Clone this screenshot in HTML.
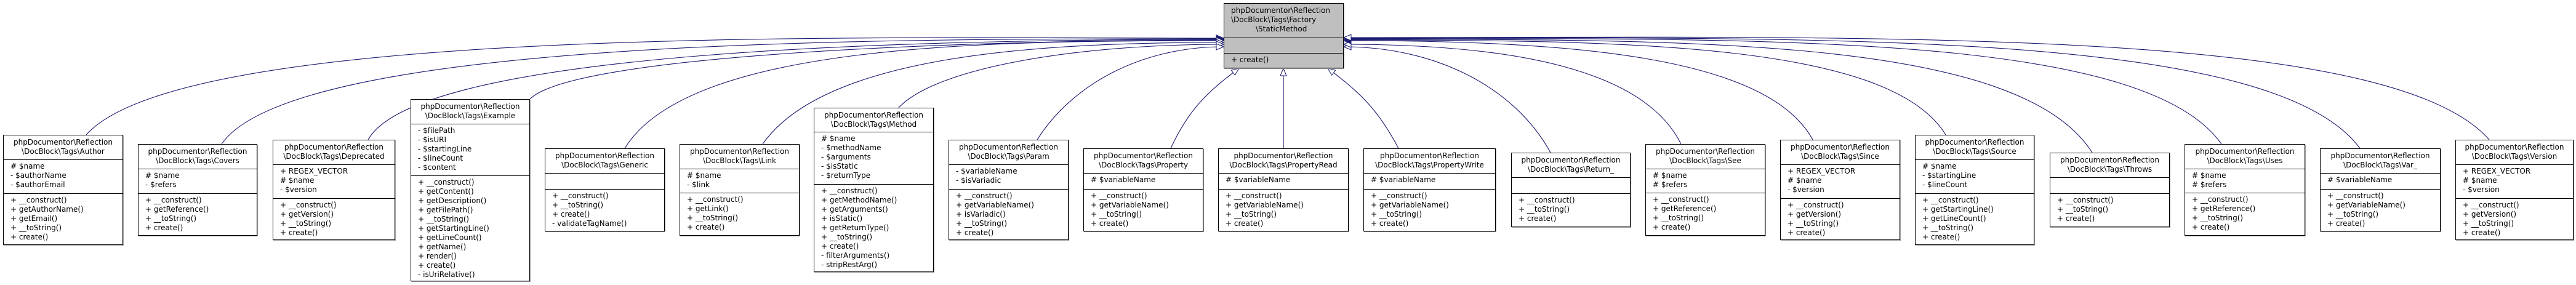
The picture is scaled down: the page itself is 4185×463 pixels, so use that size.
<!DOCTYPE html>
<html><head><meta charset="utf-8">
<style>
html,body{margin:0;padding:0;background:#fff;width:4185px;height:463px;overflow:hidden;position:relative}
body{font-family:"DejaVu Sans","Liberation Sans",sans-serif;font-size:12px;line-height:15px;color:#000}
.b{position:absolute;border:1px solid #000;background:#fff;box-sizing:border-box;box-shadow:1px 1px 0 #999}
.h{position:absolute;left:0;right:0;top:0;text-align:center;padding:4px 2px 0;white-space:nowrap}
.s{position:absolute;left:0;right:0;border-top:1px solid #000;padding:3px 0 0 11px;white-space:nowrap}
svg{position:absolute;left:0;top:0}
</style></head><body>
<svg width="4185" height="463">
<defs><marker id="a" markerUnits="userSpaceOnUse" markerWidth="16" markerHeight="14" refX="13" refY="6" orient="auto"><path d="M1,1 L13,6 L1,11 Z" fill="#fff" stroke="#191970" stroke-width="1"/></marker></defs>
<g fill="none" stroke="#191970" stroke-width="1.1" marker-end="url(#a)">
<path d="M140,219 C300,40 1400,62 1988,62"/>
<path d="M360,234 C480,60 1450,63 1988,63"/>
<path d="M598,227 C680,80 1500,64 1988,64"/>
<path d="M861,161 C930,90 1550,65 1988,65"/>
<path d="M1015,241 C1120,70 1600,66 1988,66"/>
<path d="M1239,234 C1340,90 1680,69 1988,69"/>
<path d="M1460,175 C1520,110 1750,72 1988,72"/>
<path d="M1685,227 C1740,140 1850,76 1988,76"/>
<path d="M1902,241 C1930,180 1960,150 2013,111"/>
<path d="M2085,241 L2085,111"/>
<path d="M2272,241 C2240,180 2210,150 2157,111"/>
<path d="M2519,248 C2460,140 2330,76 2183,76"/>
<path d="M2731,234 C2670,110 2450,72 2183,72"/>
<path d="M2945,227 C2870,90 2550,66 2183,66"/>
<path d="M3161,219 C3070,70 2650,65 2183,65"/>
<path d="M3399,248 C3280,60 2750,64 2183,64"/>
<path d="M3609,234 C3480,50 2850,63 2183,63"/>
<path d="M3834,241 C3690,45 2950,62 2183,62"/>
<path d="M4044,227 C3880,40 3050,61 2183,61"/>
</g>
</svg>

<div class="b" style="left:1988px;top:5px;width:195px;height:106px;background:#bfbfbf"><div class="h" style="text-align:left;padding-left:11px">phpDocumentor\Reflection<br>\DocBlock\Tags\Factory<br><span style="padding-left:40px">\StaticMethod</span></div><div class="s" style="top:55px;height:25px"></div><div class="s" style="top:80px">+ create()</div></div>

<div class="b" style="left:5px;top:219px;width:195px;height:179px"><div class="h">phpDocumentor\Reflection<br>\DocBlock\Tags\Author</div><div class="s" style="top:39px"># $name<br>- $authorName<br>- $authorEmail</div><div class="s" style="top:94px">+ __construct()<br>+ getAuthorName()<br>+ getEmail()<br>+ __toString()<br>+ create()</div></div>

<div class="b" style="left:224px;top:234px;width:194px;height:149px"><div class="h">phpDocumentor\Reflection<br>\DocBlock\Tags\Covers</div><div class="s" style="top:39px"># $name<br>- $refers</div><div class="s" style="top:79px">+ __construct()<br>+ getReference()<br>+ __toString()<br>+ create()</div></div>

<div class="b" style="left:443px;top:227px;width:199px;height:163px"><div class="h">phpDocumentor\Reflection<br>\DocBlock\Tags\Deprecated</div><div class="s" style="top:39px">+ REGEX_VECTOR<br># $name<br>- $version</div><div class="s" style="top:94px">+ __construct()<br>+ getVersion()<br>+ __toString()<br>+ create()</div></div>

<div class="b" style="left:667px;top:161px;width:194px;height:296px"><div class="h">phpDocumentor\Reflection<br>\DocBlock\Tags\Example</div><div class="s" style="top:39px">- $filePath<br>- $isURI<br>- $startingLine<br>- $lineCount<br>- $content</div><div class="s" style="top:123px">+ __construct()<br>+ getContent()<br>+ getDescription()<br>+ getFilePath()<br>+ __toString()<br>+ getStartingLine()<br>+ getLineCount()<br>+ getName()<br>+ render()<br>+ create()<br>- isUriRelative()</div></div>

<div class="b" style="left:885px;top:241px;width:195px;height:135px"><div class="h">phpDocumentor\Reflection<br>\DocBlock\Tags\Generic</div><div class="s" style="top:39px;height:23px"></div><div class="s" style="top:65px">+ __construct()<br>+ __toString()<br>+ create()<br>- validateTagName()</div></div>

<div class="b" style="left:1104px;top:234px;width:195px;height:149px"><div class="h">phpDocumentor\Reflection<br>\DocBlock\Tags\Link</div><div class="s" style="top:39px"># $name<br>- $link</div><div class="s" style="top:78px">+ __construct()<br>+ getLink()<br>+ __toString()<br>+ create()</div></div>

<div class="b" style="left:1322px;top:175px;width:195px;height:267px"><div class="h">phpDocumentor\Reflection<br>\DocBlock\Tags\Method</div><div class="s" style="top:38px"># $name<br>- $methodName<br>- $arguments<br>- $isStatic<br>- $returnType</div><div class="s" style="top:123px">+ __construct()<br>+ getMethodName()<br>+ getArguments()<br>+ isStatic()<br>+ getReturnType()<br>+ __toString()<br>+ create()<br>- filterArguments()<br>- stripRestArg()</div></div>

<div class="b" style="left:1541px;top:227px;width:195px;height:163px"><div class="h">phpDocumentor\Reflection<br>\DocBlock\Tags\Param</div><div class="s" style="top:39px">- $variableName<br>- $isVariadic</div><div class="s" style="top:79px">+ __construct()<br>+ getVariableName()<br>+ isVariadic()<br>+ __toString()<br>+ create()</div></div>

<div class="b" style="left:1760px;top:241px;width:195px;height:135px"><div class="h">phpDocumentor\Reflection<br>\DocBlock\Tags\Property</div><div class="s" style="top:39px"># $variableName</div><div class="s" style="top:65px">+ __construct()<br>+ getVariableName()<br>+ __toString()<br>+ create()</div></div>

<div class="b" style="left:1979px;top:241px;width:212px;height:135px"><div class="h">phpDocumentor\Reflection<br>\DocBlock\Tags\PropertyRead</div><div class="s" style="top:39px"># $variableName</div><div class="s" style="top:65px">+ __construct()<br>+ getVariableName()<br>+ __toString()<br>+ create()</div></div>

<div class="b" style="left:2215px;top:241px;width:215px;height:135px"><div class="h">phpDocumentor\Reflection<br>\DocBlock\Tags\PropertyWrite</div><div class="s" style="top:39px"># $variableName</div><div class="s" style="top:65px">+ __construct()<br>+ getVariableName()<br>+ __toString()<br>+ create()</div></div>

<div class="b" style="left:2455px;top:248px;width:194px;height:121px"><div class="h">phpDocumentor\Reflection<br>\DocBlock\Tags\Return_</div><div class="s" style="top:39px;height:24px"></div><div class="s" style="top:65px">+ __construct()<br>+ __toString()<br>+ create()</div></div>

<div class="b" style="left:2673px;top:234px;width:195px;height:149px"><div class="h">phpDocumentor\Reflection<br>\DocBlock\Tags\See</div><div class="s" style="top:39px"># $name<br># $refers</div><div class="s" style="top:78px">+ __construct()<br>+ getReference()<br>+ __toString()<br>+ create()</div></div>

<div class="b" style="left:2892px;top:227px;width:195px;height:163px"><div class="h">phpDocumentor\Reflection<br>\DocBlock\Tags\Since</div><div class="s" style="top:39px">+ REGEX_VECTOR<br># $name<br>- $version</div><div class="s" style="top:94px">+ __construct()<br>+ getVersion()<br>+ __toString()<br>+ create()</div></div>

<div class="b" style="left:3111px;top:219px;width:194px;height:179px"><div class="h">phpDocumentor\Reflection<br>\DocBlock\Tags\Source</div><div class="s" style="top:39px"># $name<br>- $startingLine<br>- $lineCount</div><div class="s" style="top:94px">+ __construct()<br>+ getStartingLine()<br>+ getLineCount()<br>+ __toString()<br>+ create()</div></div>

<div class="b" style="left:3330px;top:248px;width:195px;height:121px"><div class="h">phpDocumentor\Reflection<br>\DocBlock\Tags\Throws</div><div class="s" style="top:39px;height:24px"></div><div class="s" style="top:65px">+ __construct()<br>+ __toString()<br>+ create()</div></div>

<div class="b" style="left:3549px;top:234px;width:196px;height:149px"><div class="h">phpDocumentor\Reflection<br>\DocBlock\Tags\Uses</div><div class="s" style="top:39px"># $name<br># $refers</div><div class="s" style="top:78px">+ __construct()<br>+ getReference()<br>+ __toString()<br>+ create()</div></div>

<div class="b" style="left:3769px;top:241px;width:196px;height:135px"><div class="h">phpDocumentor\Reflection<br>\DocBlock\Tags\Var_</div><div class="s" style="top:39px"># $variableName</div><div class="s" style="top:65px">+ __construct()<br>+ getVariableName()<br>+ __toString()<br>+ create()</div></div>

<div class="b" style="left:3989px;top:227px;width:192px;height:163px"><div class="h">phpDocumentor\Reflection<br>\DocBlock\Tags\Version</div><div class="s" style="top:39px">+ REGEX_VECTOR<br># $name<br>- $version</div><div class="s" style="top:94px">+ __construct()<br>+ getVersion()<br>+ __toString()<br>+ create()</div></div>

</body></html>
